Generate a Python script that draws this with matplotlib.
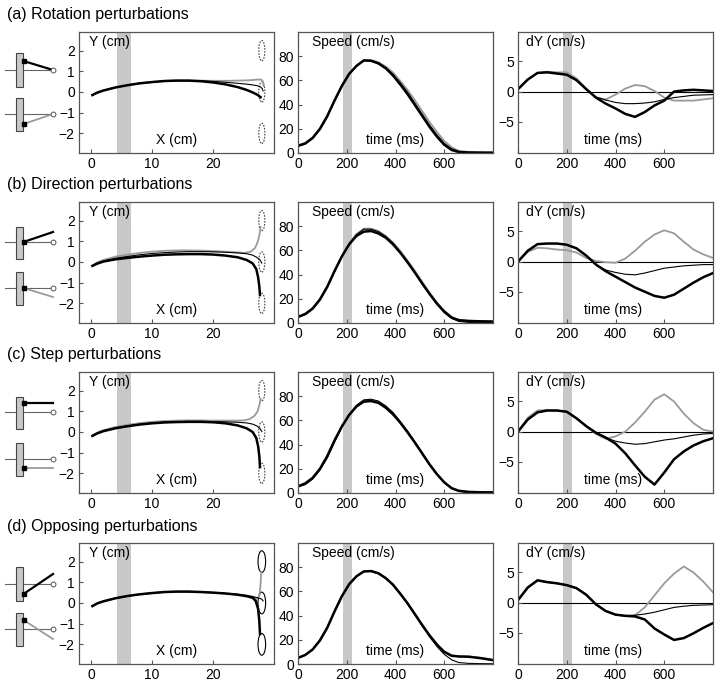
import matplotlib
matplotlib.use("Agg")
import matplotlib.pyplot as plt
from matplotlib.patches import Ellipse, Rectangle

plt.rcParams['font.family'] = ['Liberation Sans', 'DejaVu Sans']

# === DATA ===
# time grids (ms): speed traces sampled every 30 ms, dY traces every 40 ms
t_speed = [0, 30, 60, 90, 120, 150, 180, 210, 240, 270, 300, 330, 360, 390, 420,
           450, 480, 510, 540, 570, 600, 630, 660, 700, 750, 800]
t_dy = list(range(0, 801, 40))

# hand paths, X and Y in cm, one set per perturbation type
rot_thin_x = [0.2, 1, 2, 4, 6, 8, 10, 12, 14, 16, 18, 20, 22, 24, 25.5, 26.5, 27.3, 27.8, 28.1, 28.2]
rot_thin_y = [-0.15, -0.03, 0.07, 0.22, 0.33, 0.42, 0.48, 0.53, 0.55, 0.55, 0.54, 0.51, 0.47, 0.42, 0.38, 0.34, 0.3, 0.24, 0.15, 0.05]
rot_gray_x = [0.2, 1, 2, 4, 6, 8, 10, 12, 14, 16, 18, 20, 22, 24, 25.5, 26.5, 27.3, 27.9, 28.2, 28.3]
rot_gray_y = [-0.15, -0.03, 0.07, 0.22, 0.33, 0.42, 0.48, 0.53, 0.55, 0.55, 0.55, 0.54, 0.54, 0.55, 0.56, 0.58, 0.6, 0.6, 0.5, 0.3]
rot_thick_x = [0.2, 1, 2, 4, 6, 8, 10, 12, 14, 16, 18, 20, 22, 24, 25.5, 26.5, 27.3, 27.8]
rot_thick_y = [-0.15, -0.03, 0.07, 0.22, 0.33, 0.42, 0.48, 0.53, 0.55, 0.55, 0.52, 0.46, 0.37, 0.24, 0.1, -0.02, -0.14, -0.25]

dir_thin_x = [0.2, 1, 2, 4, 6, 8, 10, 12, 14, 16, 18, 20, 22, 24, 25.5, 26.5, 27.2, 27.7, 28.0]
dir_thin_y = [-0.17, -0.05, 0.05, 0.18, 0.27, 0.35, 0.41, 0.45, 0.48, 0.5, 0.5, 0.49, 0.47, 0.44, 0.4, 0.33, 0.22, 0.1, -0.05]
dir_gray_x = [0.2, 1, 2, 4, 6, 8, 10, 12, 14, 16, 18, 20, 22, 24, 25.2, 26.2, 26.9, 27.3, 27.6, 27.8]
dir_gray_y = [-0.17, -0.02, 0.1, 0.26, 0.36, 0.44, 0.5, 0.54, 0.56, 0.56, 0.55, 0.53, 0.5, 0.46, 0.44, 0.5, 0.68, 0.95, 1.3, 1.7]
dir_thick_x = [0.2, 1, 2, 4, 6, 8, 10, 12, 14, 16, 18, 20, 22, 24, 25.5, 26.5, 27.1, 27.4, 27.6, 27.7]
dir_thick_y = [-0.19, -0.08, 0.02, 0.13, 0.2, 0.26, 0.31, 0.35, 0.37, 0.38, 0.38, 0.36, 0.31, 0.23, 0.1, -0.07, -0.35, -0.75, -1.2, -1.6]

step_thin_x = [0.2, 1, 2, 4, 6, 8, 10, 12, 14, 16, 18, 20, 22, 24, 25.5, 26.5, 27.2, 27.7, 28.0]
step_thin_y = [-0.18, -0.05, 0.06, 0.2, 0.3, 0.38, 0.44, 0.48, 0.5, 0.51, 0.51, 0.5, 0.49, 0.47, 0.44, 0.38, 0.29, 0.17, 0.02]
step_gray_x = [0.2, 1, 2, 4, 6, 8, 10, 12, 14, 16, 18, 20, 22, 24, 25, 26, 26.8, 27.3, 27.6, 27.8]
step_gray_y = [-0.17, -0.03, 0.09, 0.24, 0.35, 0.43, 0.49, 0.53, 0.55, 0.56, 0.56, 0.55, 0.55, 0.55, 0.56, 0.62, 0.78, 1.0, 1.3, 1.6]
step_thick_x = [0.2, 1, 2, 4, 6, 8, 10, 12, 14, 16, 18, 20, 22, 24, 25.5, 26.5, 27.1, 27.4, 27.6, 27.7]
step_thick_y = [-0.19, -0.07, 0.04, 0.18, 0.28, 0.36, 0.42, 0.46, 0.48, 0.49, 0.49, 0.47, 0.42, 0.32, 0.18, 0.0, -0.3, -0.7, -1.2, -1.7]

opp_thin_x = [0.2, 1, 2, 4, 6, 8, 10, 12, 14, 16, 18, 20, 22, 24, 25.5, 26.5, 27.2, 27.7, 28.0, 28.2]
opp_thin_y = [-0.15, -0.02, 0.08, 0.23, 0.34, 0.42, 0.48, 0.53, 0.55, 0.55, 0.53, 0.5, 0.46, 0.41, 0.36, 0.31, 0.26, 0.22, 0.18, 0.1]
opp_gray_x = [0.2, 1, 2, 4, 6, 8, 10, 12, 14, 16, 18, 20, 22, 24, 25.5, 26.5, 27.2, 27.6, 27.8, 27.9]
opp_gray_y = [-0.15, -0.02, 0.08, 0.23, 0.34, 0.42, 0.48, 0.53, 0.55, 0.55, 0.53, 0.5, 0.46, 0.42, 0.37, 0.3, 0.2, 0.35, 0.9, 1.5]
opp_thick_x = [0.2, 1, 2, 4, 6, 8, 10, 12, 14, 16, 18, 20, 22, 24, 25.5, 26.5, 27.0, 27.4, 27.6, 27.7]
opp_thick_y = [-0.15, -0.02, 0.08, 0.23, 0.34, 0.42, 0.48, 0.53, 0.55, 0.55, 0.53, 0.5, 0.46, 0.4, 0.33, 0.25, 0.1, -0.3, -0.9, -1.5]

# tangential speed (cm/s) at t_speed
rot_speed_thin = [5.5, 7.5, 12, 19.5, 30, 43, 55, 65, 72, 76.5, 76.5, 74.5, 70.5, 65, 58, 50, 41, 32, 23, 15, 8, 3.5, 1.2, 0.5, 0.3, 0.2]
rot_speed_gray = [5.5, 7.5, 12, 19.5, 30, 43, 55, 65, 72, 76.5, 76.8, 75, 71.5, 66.5, 59.5, 52, 43.5, 34.5, 25.5, 17.5, 10, 4.8, 1.8, 0.9, 0.7, 0.6]
rot_speed_thick = [6, 8, 12.5, 20, 30.5, 43.5, 55.5, 65.5, 72, 76.5, 76.2, 74, 70, 64, 56.5, 48.5, 39.5, 30.5, 21.5, 13.5, 6.8, 2.5, 0.8, 0.4, 0.3, 0.2]

dir_speed_thin = [5, 7, 11.5, 19, 29.5, 42.5, 55, 65.5, 73, 77.5, 77.5, 75.5, 71.5, 66, 58.5, 50.5, 41.5, 32.5, 23.5, 15.5, 8.5, 3.8, 1.3, 0.5, 0.3, 0.2]
dir_speed_gray = [5, 7, 11.5, 19, 29.5, 42.5, 55.5, 66, 73.5, 78, 78, 76, 72, 66.5, 59.5, 51.5, 43, 34, 25, 17, 10, 5, 2.5, 1.8, 1.5, 1.2]
dir_speed_thick = [5, 7.5, 12, 19.5, 30, 43, 55, 65, 72, 75.5, 76, 74, 70.5, 65, 58, 50, 41.5, 32.5, 24, 16, 9.5, 4.5, 2.3, 1.7, 1.4, 1.2]

step_speed_thin = [5, 7, 11.5, 19, 29, 42, 54.5, 65, 72.5, 77, 77.5, 76, 72, 66.5, 59, 51, 42, 33, 23.5, 15.5, 8.5, 3.8, 1.3, 0.5, 0.3, 0.2]
step_speed_gray = [5, 7.5, 12, 19.5, 30, 43, 55, 65, 72, 76, 76.5, 75, 71, 65.5, 58.5, 50.5, 42, 33, 24, 16, 9, 4, 1.8, 0.9, 0.6, 0.5]
step_speed_thick = [5.5, 8, 12.5, 20, 30.5, 43.5, 55, 64.5, 71.5, 75.5, 76, 74.5, 70.5, 65, 58, 50, 41.5, 32.5, 23.5, 15.5, 8.8, 4, 1.8, 0.9, 0.6, 0.5]

opp_speed_thin = [5, 7.5, 12, 19.5, 30, 43.5, 56, 66, 72.5, 76.5, 76.5, 74.5, 70.5, 65, 57.5, 49.5, 40.5, 31.5, 22.5, 14.5, 8, 3.5, 1.2, 0.5, 0.3, 0.2]
opp_speed_gray = [5, 7.5, 12, 19.5, 30, 43.5, 56, 66, 72.5, 76.5, 76.8, 75, 71, 65.5, 58, 50, 41.5, 32.5, 24, 16.5, 10.5, 7.2, 6.5, 6.3, 5.2, 3.5]
opp_speed_thick = [5, 7.5, 12, 19.5, 30, 43.5, 56, 66, 72.5, 76.5, 76.8, 75, 71, 65.5, 58, 50, 41, 32, 23.5, 16, 10, 6.8, 6.2, 6.0, 4.8, 3.2]

# lateral velocity dY (cm/s) at t_dy
rot_dy_thin = [0.4, 2.0, 3.1, 3.2, 3.0, 2.8, 1.9, 0.4, -0.9, -1.4, -1.8, -2.0, -2.0, -1.9, -1.7, -1.3, -1.0, -0.8, -0.6, -0.55, -0.5]
rot_dy_gray = [0.4, 2.0, 3.1, 3.3, 3.2, 3.2, 2.2, 0.5, -1.0, -1.3, -0.5, 0.5, 1.1, 0.9, 0.1, -1.0, -1.5, -1.5, -1.5, -1.3, -1.1]
rot_dy_thick = [0.4, 2.0, 3.1, 3.2, 3.0, 2.8, 1.9, 0.4, -1.0, -2.0, -2.8, -3.7, -4.2, -3.4, -2.3, -1.5, 0.0, 0.2, 0.3, 0.2, 0.1]

dir_dy_thin = [0.0, 1.8, 2.9, 3.0, 3.0, 2.8, 2.2, 1.0, -0.5, -1.4, -1.8, -2.1, -2.2, -1.9, -1.5, -1.1, -0.9, -0.7, -0.6, -0.5, -0.5]
dir_dy_gray = [0.0, 1.6, 2.3, 2.2, 2.0, 1.9, 1.5, 0.6, 0.1, -0.1, -0.2, 0.5, 1.8, 3.3, 4.5, 5.2, 4.7, 3.3, 2.0, 1.2, 0.6]
dir_dy_thick = [0.0, 1.8, 2.9, 3.0, 3.0, 2.8, 2.2, 1.0, -0.5, -1.6, -2.5, -3.4, -4.3, -5.0, -5.7, -6.0, -5.5, -4.5, -3.5, -2.6, -1.9]

step_dy_thin = [0.0, 2.0, 3.2, 3.5, 3.5, 3.3, 2.2, 0.9, -0.2, -1.0, -1.6, -1.9, -2.1, -2.0, -1.7, -1.4, -1.2, -0.9, -0.6, -0.4, -0.3]
step_dy_gray = [0.0, 2.3, 3.5, 3.6, 3.5, 3.3, 2.3, 0.9, -0.4, -1.2, -0.8, 0.0, 1.5, 3.3, 5.3, 6.2, 5.0, 3.0, 1.4, 0.3, 0.0]
step_dy_thick = [0.0, 2.0, 3.2, 3.5, 3.5, 3.3, 2.2, 0.9, -0.2, -1.0, -2.0, -3.6, -5.6, -7.5, -8.8, -6.8, -4.6, -3.3, -2.3, -1.6, -1.1]

opp_dy_thin = [0.4, 2.5, 3.7, 3.4, 3.2, 2.9, 2.4, 1.3, -0.3, -1.4, -2.0, -2.2, -2.1, -1.9, -1.6, -1.2, -0.8, -0.6, -0.45, -0.4, -0.35]
opp_dy_gray = [0.4, 2.5, 3.7, 3.4, 3.2, 2.9, 2.4, 1.3, -0.3, -1.4, -2.0, -2.2, -2.1, -0.8, 1.2, 3.2, 4.8, 6.0, 5.0, 3.5, 1.7]
opp_dy_thick = [0.4, 2.5, 3.7, 3.4, 3.2, 2.9, 2.4, 1.3, -0.3, -1.4, -2.0, -2.2, -2.3, -2.8, -4.3, -5.3, -6.2, -5.9, -5.1, -4.2, -3.4]

titles = ["(a) Rotation perturbations", "(b) Direction perturbations",
          "(c) Step perturbations", "(d) Opposing perturbations"]
target_y = [2, 0, -2]
shade_cm = (4.3, 6.5)
shade_ms = (185, 222)

rows = [
    dict(tx=(rot_thin_x, rot_gray_x, rot_thick_x), ty=(rot_thin_y, rot_gray_y, rot_thick_y),
         sp=(rot_speed_thin, rot_speed_gray, rot_speed_thick), dy=(rot_dy_thin, rot_dy_gray, rot_dy_thick)),
    dict(tx=(dir_thin_x, dir_gray_x, dir_thick_x), ty=(dir_thin_y, dir_gray_y, dir_thick_y),
         sp=(dir_speed_thin, dir_speed_gray, dir_speed_thick), dy=(dir_dy_thin, dir_dy_gray, dir_dy_thick)),
    dict(tx=(step_thin_x, step_gray_x, step_thick_x), ty=(step_thin_y, step_gray_y, step_thick_y),
         sp=(step_speed_thin, step_speed_gray, step_speed_thick), dy=(step_dy_thin, step_dy_gray, step_dy_thick)),
    dict(tx=(opp_thin_x, opp_gray_x, opp_thick_x), ty=(opp_thin_y, opp_gray_y, opp_thick_y),
         sp=(opp_speed_thin, opp_speed_gray, opp_speed_thick), dy=(opp_dy_thin, opp_dy_gray, opp_dy_thick)),
]

# schematic icons: (dot y, end x, end y) for the perturbed segment, pixel coords
icon_top = [(61, 53, 70), (242, 53, 232), (403, 53, 403), (594, 53, 574)]
icon_bot = [(124, 53, 114), (288, 53, 297), (468, 53, 468), (620, 53, 639)]
icon_line_y = [(70, 114), (242, 288), (412, 459), (584, 629)]
icon_rect_y = [((53, 87), (98, 131)), ((227, 259), (272, 305)),
               ((397, 429), (443, 476)), ((567, 601), (613, 646))]

# === STYLE ===
W, H = 720, 684
GRAY = "#9a9a9a"
SHADE = "#c8c8c8"
FRAME = "#555555"
styles = [dict(color="black", lw=0.8), dict(color=GRAY, lw=1.3), dict(color="black", lw=1.8)]

fig = plt.figure(figsize=(W / 100, H / 100), dpi=100)

# overlay axes in pixel coordinates for the little schematics
ov = fig.add_axes([0, 0, 1, 1])
ov.set_xlim(0, W)
ov.set_ylim(H, 0)
ov.axis("off")

col_left = [79, 298, 518]
col_w = 195
row_top = [32, 202, 372, 543]
ax_h = 121
title_y = [15, 185, 355, 527]


def make_ax(left, top):
    ax = fig.add_axes([left / W, 1 - (top + ax_h) / H, col_w / W, ax_h / H])
    for s in ax.spines.values():
        s.set_color(FRAME)
        s.set_linewidth(0.9)
    ax.tick_params(direction="in", length=3, width=0.8, color=FRAME,
                   labelsize=10, pad=3)
    return ax


for i, r in enumerate(rows):
    fig.text(7 / W, 1 - title_y[i] / H, titles[i], fontsize=11.5, va="center", ha="left")

    # icons
    for (y0, y1), line_y, seg, col, lw in [
            (icon_rect_y[i][0], icon_line_y[i][0], icon_top[i], "black", 1.6),
            (icon_rect_y[i][1], icon_line_y[i][1], icon_bot[i], GRAY, 1.3)]:
        ov.plot([5, 52], [line_y, line_y], color="#666666", lw=0.8, zorder=1)
        ov.add_patch(Rectangle((16, y0), 7, y1 - y0, facecolor=SHADE,
                               edgecolor="#444444", lw=0.8, zorder=2))
        ov.plot([23.5, seg[1]], [seg[0], seg[2]], color=col, lw=lw, zorder=3)
        ov.plot([23.5], [seg[0]], marker="s", ms=2.2, color="black", zorder=4)
        ov.plot([53], [line_y], marker="o", ms=3.5, mfc="white", mec="#555555",
                mew=0.7, zorder=4)

    # trajectories
    ax = make_ax(col_left[0], row_top[i])
    ax.axvspan(*shade_cm, color=SHADE, lw=0, zorder=0)
    solid = i == 3
    for ty in target_y:
        ax.add_patch(Ellipse((28, ty), 1.25 if solid else 1.0, 1.05 if solid else 0.98,
                             fill=False, edgecolor="black" if solid else "#444444",
                             lw=0.8, ls="-" if solid else (0, (1.5, 1.2))))
    for k in (1, 0, 2):
        ax.plot(r["tx"][k], r["ty"][k], **styles[k])
    ax.set_xlim(-2, 30)
    ax.set_ylim(-2.95, 2.9)
    ax.set_xticks([0, 10, 20])
    ax.set_yticks([-2, -1, 0, 1, 2])
    ax.text(0.05, 0.92, "Y (cm)", transform=ax.transAxes, fontsize=10, va="center")
    ax.text(0.5, 0.11, "X (cm)", transform=ax.transAxes, fontsize=10, va="center", ha="center")

    # speed
    ax = make_ax(col_left[1], row_top[i])
    ax.axvspan(*shade_ms, color=SHADE, lw=0, zorder=0)
    for k in (1, 0, 2):
        ax.plot(t_speed, r["sp"][k], **styles[k])
    ax.set_xlim(0, 800)
    ax.set_ylim(0, 100)
    ax.set_xticks([0, 200, 400, 600])
    ax.set_yticks([0, 20, 40, 60, 80])
    ax.text(0.07, 0.92, "Speed (cm/s)", transform=ax.transAxes, fontsize=10, va="center")
    ax.text(0.5, 0.11, "time (ms)", transform=ax.transAxes, fontsize=10, va="center", ha="center")

    # lateral velocity
    ax = make_ax(col_left[2], row_top[i])
    ax.axvspan(*shade_ms, color=SHADE, lw=0, zorder=0)
    ax.axhline(0, color="black", lw=0.8, zorder=1)
    for k in (1, 0, 2):
        ax.plot(t_dy, r["dy"][k], **styles[k])
    ax.set_xlim(0, 800)
    ax.set_ylim(-10.2, 9.9)
    ax.set_xticks([0, 200, 400, 600])
    ax.set_yticks([-5, 0, 5])
    ax.text(0.04, 0.92, "dY (cm/s)", transform=ax.transAxes, fontsize=10, va="center")
    ax.text(0.49, 0.11, "time (ms)", transform=ax.transAxes, fontsize=10, va="center", ha="center")

fig.savefig("out.png", dpi=100)
